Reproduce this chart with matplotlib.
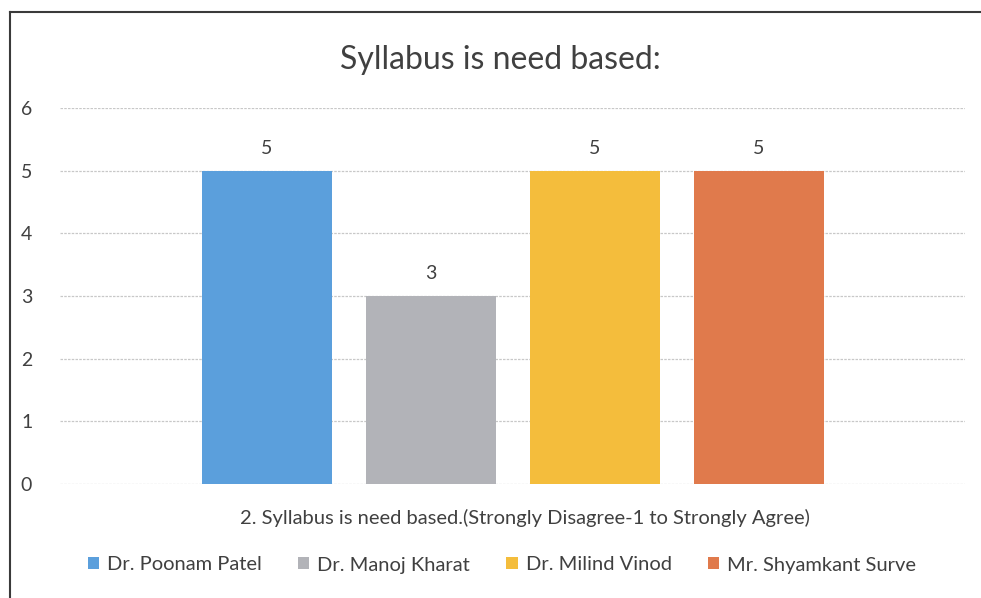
import matplotlib.pyplot as plt
from matplotlib.lines import Line2D

plt.rcParams["font.family"] = ["Lato", "DejaVu Sans"]

title = "Syllabus is need based:"
category = "2. Syllabus is need based.(Strongly Disagree-1 to Strongly Agree)"
teachers = ["Dr. Poonam Patel", "Dr. Manoj Kharat", "Dr. Milind Vinod", "Mr. Shyamkant Surve"]
scores = [5, 3, 5, 5]
colors = ["#5b9fdc", "#b2b3b8", "#f4bd3c", "#e07a4c"]
yticks = [0, 1, 2, 3, 4, 5, 6]

text_color = "#404040"

fig = plt.figure(figsize=(9.81, 5.98), dpi=100)
fig.patch.set_facecolor("white")
ax = fig.add_axes([60 / 981, 114 / 598, 905 / 981, 376 / 598])

for i, (name, val, col) in enumerate(zip(teachers, scores, colors)):
    ax.bar(i, val, width=0.79, color=col, label=name, zorder=3)
    ax.annotate(str(val), (i, val), xytext=(0, 10), textcoords="offset points",
                ha="center", va="bottom", fontsize=14, color=text_color)

ax.set_xlim(-1.262, 4.256)
ax.set_ylim(0, 6)
ax.set_yticks(yticks)
ax.set_xticks([])
ax.tick_params(axis="y", length=0, pad=20, labelsize=14, labelcolor=text_color)
ax.grid(axis="y", color="#c8c8c8", linewidth=0.9, linestyle=(0, (2, 1)), zorder=0)
for s in ax.spines.values():
    s.set_visible(False)

fig.text(500 / 981, 1 - 60 / 598, title, ha="center", va="center",
         fontsize=23, color=text_color)
fig.text(525 / 981, 1 - 518 / 598, category, ha="center", va="center",
         fontsize=14.5, color=text_color)

fig.legend(loc="center", bbox_to_anchor=(502 / 981, 1 - 565 / 598), ncol=4,
           frameon=False, fontsize=14.5, handlelength=0.55, handleheight=0.55,
           handletextpad=0.4, columnspacing=1.8, labelcolor=text_color)

# chart frame (scanned page edge)
fig.add_artist(Line2D([10 / 981, 10 / 981], [0, 1 - 12 / 598], color="#3a3a3a",
                      linewidth=1.5, transform=fig.transFigure))
fig.add_artist(Line2D([10 / 981, 1], [1 - 12 / 598, 1 - 12 / 598], color="#3a3a3a",
                      linewidth=1.5, transform=fig.transFigure))

fig.savefig("out.png", dpi=100)
